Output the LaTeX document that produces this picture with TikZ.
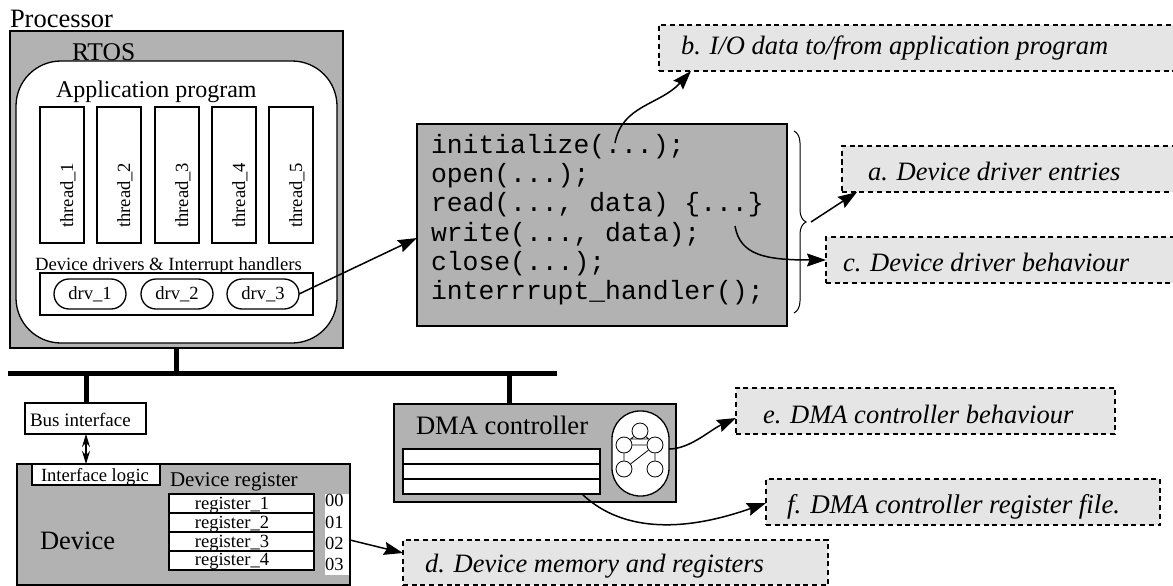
\documentclass[tikz,border=0pt]{standalone}
\usepackage{fontspec}
\setmainfont{Liberation Serif}
\setmonofont{Liberation Mono}
\usetikzlibrary{arrows.meta,decorations.pathreplacing}
\newcommand{\fs}[1]{\fontsize{#1}{#1}\selectfont}
\tikzset{
    box/.style={rectangle,draw,line width=1.3pt,inner sep=0pt,outer sep=0pt,anchor=north west},
    graybox/.style={box,fill=black!30},
    whitebox/.style={box,fill=white},
    notebox/.style={rectangle,draw,fill=black!10,line width=1.3pt,dash pattern=on 5pt off 3.7pt,inner sep=0pt,outer sep=0pt,anchor=north west},
    lbl/.style={inner sep=0pt,outer sep=0pt,anchor=base west},
    notetext/.style={lbl,font=\fs{26.5}\itshape},
    threadbox/.style={whitebox,minimum width=44pt,minimum height=136pt},
    threadtext/.style={inner sep=0pt,rotate=90,anchor=base west,font=\fs{18.6}},
    drvpill/.style={whitebox,rounded corners=15pt,minimum height=30pt,minimum width=72pt,font=\fs{18.6}},
    regbox/.style={rectangle,draw,fill=white,line width=1.3pt,inner sep=0pt,outer sep=0pt,anchor=north,minimum width=145pt,minimum height=19pt},
    reglabel/.style={font=\fs{18.6},inner sep=0pt,anchor=base},
    dmareg/.style={rectangle,draw,fill=white,line width=1.3pt,inner sep=0pt,outer sep=0pt,anchor=north,minimum width=197pt,minimum height=15pt},
    fsmstate/.style={circle,draw,fill=white,line width=0.8pt,inner sep=0pt,minimum size=16pt},
    codeline/.style={lbl,font=\fs{26.4}\ttfamily},
    link/.style={line width=1.5pt,-{Stealth[length=19pt,width=13pt,inset=2.5pt]}},
    busline/.style={line width=5pt}
}
\begin{document}
\begin{tikzpicture}[x=1pt,y=-1pt]
    \useasboundingbox (0,0) rectangle (1173,586);

    \draw
    (10,31)node[graybox,minimum width=333pt,minimum height=317pt](processor){}
    (16,61)node[whitebox,minimum width=321pt,minimum height=282pt,rounded corners=45pt](rtos){}
    (10,28)node[lbl,font=\fs{26.5}](processorlabel){Processor}
    (72,60)node[lbl,font=\fs{25.5}](rtoslabel){RTOS}
    (56,98)node[lbl,font=\fs{24}](applabel){Application program}
    (40,107)node[threadbox](thread1){}
    (97,107)node[threadbox](thread2){}
    (155,107)node[threadbox](thread3){}
    (212,107)node[threadbox](thread4){}
    (269,107)node[threadbox](thread5){}
    (73,228)node[threadtext]{thread\_1}
    (130,228)node[threadtext]{thread\_2}
    (188,228)node[threadtext]{thread\_3}
    (245,228)node[threadtext]{thread\_4}
    (302,228)node[threadtext]{thread\_5}
    (35,270)node[lbl,font=\fs{18.7}](drvlabel){Device drivers \& Interrupt handlers}
    (40,273)node[whitebox,minimum width=273pt,minimum height=42pt](drvbox){}
    (54,279)node[drvpill](drv1){drv\_1}
    (141,279)node[drvpill](drv2){drv\_2}
    (227,279)node[drvpill](drv3){drv\_3}
    ;

    \draw
    (417,124)node[graybox,line width=2.4pt,minimum width=370pt,minimum height=202pt](code){}
    (431,153)node[codeline](init){initialize(...);}
    (431,182)node[codeline](open){open(...);}
    (431,211)node[codeline](read){read(..., data) \{...\}}
    (431,241)node[codeline](write){write(..., data);}
    (431,270)node[codeline](close){close(...);}
    (431,299)node[codeline](handler){interrrupt\_handler();}
    ;

    \draw
    (659,25)node[notebox,minimum width=520pt,minimum height=46pt](noteb){}
    (842,146)node[notebox,minimum width=340pt,minimum height=46pt](notea){}
    (826,237)node[notebox,minimum width=356pt,minimum height=46pt](notec){}
    (403,540)node[notebox,minimum width=425pt,minimum height=45pt](noted){}
    (736,388)node[notebox,minimum width=379pt,minimum height=46pt](notee){}
    (766,479)node[notebox,minimum width=394pt,minimum height=46pt](notef){}
    (681,55)node[notetext]{b. I/O data to/from application program}
    (868,180)node[notetext]{a. Device driver entries}
    (843,271)node[notetext]{c. Device driver behaviour}
    (425,572)node[notetext]{d. Device memory and registers}
    (763,423)node[notetext]{e. DMA controller behaviour}
    (787,513)node[notetext,font=\fs{27}\itshape]{f. DMA controller register file.}
    ;

    \draw[busline] (8,373) -- (557,373);
    \draw[busline] (processor.south -| 176.5,0) -- (176.5,376);
    \draw
    (25,403)node[whitebox,minimum width=121pt,minimum height=31pt](busif){}
    (30,426)node[lbl,font=\fs{19}]{Bus interface}
    ;
    \draw[busline] (86,372) -- (busif.north -| 86,0);

    \draw
    (17,464)node[graybox,minimum width=333pt,minimum height=121pt](device){}
    (32,464)node[whitebox,minimum width=128pt,minimum height=21pt](iflogic){}
    (41,481)node[lbl,font=\fs{18.6}]{Interface logic}
    (170,486)node[lbl,font=\fs{21}]{Device register}
    (40,549)node[lbl,font=\fs{26.5}]{Device}
    (325,494)node[anchor=north west,fill=white,inner sep=0pt,minimum width=24pt,minimum height=81pt](regaddr){}
    (325,506)node[lbl,font=\fs{18.5}]{00}
    (325,528)node[lbl,font=\fs{18.5}]{01}
    (325,549)node[lbl,font=\fs{18.5}]{02}
    (325,570)node[lbl,font=\fs{18.5}]{03}
    (241.5,494)node[regbox](reg){}
    (232,509)node[reglabel]{register\_1}
    (reg.south)node[regbox](reg){}
    (232,528)node[reglabel]{register\_2}
    (reg.south)node[regbox](reg){}
    (232,547)node[reglabel]{register\_3}
    (reg.south)node[regbox](reg){}
    (232,565)node[reglabel]{register\_4}
    ;
    \draw[line width=1.3pt,{Stealth[length=13pt,width=8pt]}-{Stealth[length=13pt,width=8pt]}] (busif.south -| 86,0) -- (device.north -| 86,0);

    \draw[busline] (509,373) -- (509,404);
    \draw
    (394,404)node[graybox,minimum width=282pt,minimum height=98pt](dma){}
    (416,434)node[lbl,font=\fs{26.6}]{DMA controller}
    (501.5,449)node[dmareg](dmareg){}
    (dmareg.south)node[dmareg](dmareg){}
    (dmareg.south)node[dmareg](dmareg){}
    (612,411)node[whitebox,minimum width=57pt,minimum height=85pt,rounded corners=28pt](fsm){}
    (640,431)node[fsmstate](s1){}
    (624,445)node[fsmstate](s2){}
    (655,445)node[fsmstate](s3){}
    (624,469)node[fsmstate](s4){}
    (655,469)node[fsmstate](s5){}
    ;
    \draw[line width=0.8pt] (s1) -- (s2) (s1) -- (s3) (s2) -- (s3) (s2.north east) -- (s3.north west) (s2) -- (s4) (s3) -- (s5) (s3) -- (s4);

    \draw[decorate,decoration={brace,amplitude=12pt},line width=1pt] (794,131) -- (794,313);

    \coordinate (bracetip) at (811,222);
    \coordinate (initdots) at (615,143);
    \coordinate (writeend) at (735,226);
    \coordinate (dmaout) at (582,494);

    \draw[link] (drv3.east) -- (417,238);
    \draw[link] (initdots) .. controls (622,105) and (660,105) .. (691,71);
    \draw[link] (bracetip) -- (857,192);
    \draw[link] (writeend) .. controls (740,255) and (765,260) .. (notec.west);
    \draw[link] (350,540) -- (noted.west |- 0,553);
    \draw[link] (fsm.east |- 0,449) .. controls (690,449) and (710,430) .. (notee.west |- 0,418);
    \draw[link] (dmaout) .. controls (625,535) and (690,530) .. (notef.west |- 0,503);
\end{tikzpicture}
\end{document}
